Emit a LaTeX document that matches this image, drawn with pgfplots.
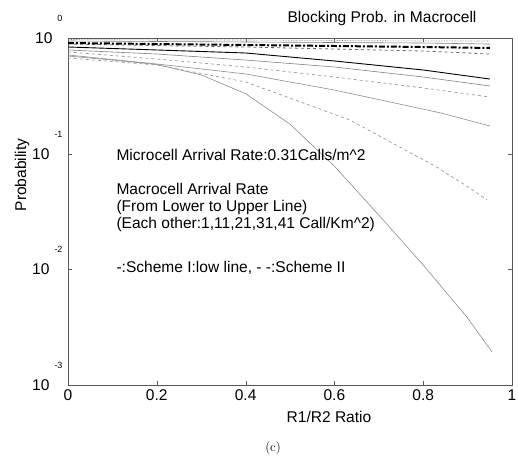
\documentclass[border=0pt]{standalone}
\usepackage{pgfplots}
\pgfplotsset{compat=1.18}
\usepackage{fontspec}
\setsansfont{Liberation Sans}
\newcommand{\bigf}{\sffamily\fontsize{15.6}{18}\selectfont}
\newcommand{\expo}[1]{10\hspace{5bp}\smash{\raisebox{22bp}{\sffamily\fontsize{9}{9}\selectfont #1}}}
\begin{document}
\begin{tikzpicture}
\useasboundingbox (0bp,0bp) rectangle (518bp,465bp);
\begin{axis}[
  at={(68bp,80bp)}, anchor=south west,
  width=444bp, height=347bp, scale only axis,
  xmin=0, xmax=1,
  ymode=log, ymin=1e-3, ymax=1,
  yminorticks=false,
  xtick={0,0.2,0.4,0.6,0.8,1},
  xticklabels={0,0.2,0.4,0.6,0.8,1},
  ytick={0.001,0.01,0.1,1},
  yticklabels={{\expo{-3}},{\expo{-2}},{\expo{-1}},{\expo{0}}},
  tick label style={font=\bigf},
  /pgf/number format/assume math mode=true,
  yticklabel style={xshift=-2bp},
  xticklabel style={yshift=-1bp},
  axis line style={black!65, line width=0.6pt},
  major tick length=4bp,
  tick style={black!65},
  clip=true,
]
% Scheme I, rate 1 (steepest)
\addplot[black!45, line width=0.6pt] coordinates {
(0,0.699) (0.1,0.645) (0.2,0.590) (0.3,0.480) (0.4,0.330) (0.5,0.1800)
(0.6,0.0780) (0.71,0.0267) (0.8,0.0109) (0.9,0.0038) (0.955,0.00193)};
% Scheme II, rate 1
\addplot[black!45, line width=0.6pt, dashed] coordinates {
(0,0.672) (0.2,0.584) (0.4,0.417) (0.635,0.1956) (0.83,0.0767) (0.905,0.0505) (0.944,0.0398)};
% Scheme I, rate 11
\addplot[black!45, line width=0.6pt] coordinates {
(0,0.713) (0.2,0.596) (0.4,0.489) (0.6,0.355) (0.84,0.2248) (0.95,0.1735)};
% Scheme II, rate 11
\addplot[black!45, line width=0.6pt, dashed] coordinates {
(0,0.757) (0.2,0.658) (0.4,0.5615) (0.6,0.460) (0.8,0.370) (0.95,0.309)};
% Scheme I, rate 21
\addplot[black!50, line width=0.6pt] coordinates {
(0,0.788) (0.2,0.727) (0.4,0.645) (0.6,0.5615) (0.8,0.460) (0.95,0.385)};
% Scheme II, rate 21
\addplot[black, line width=0.9pt] coordinates {
(0,0.836) (0.2,0.788) (0.4,0.742) (0.6,0.633) (0.8,0.529) (0.95,0.442)};
% Scheme I, rate 31
\addplot[black!60, line width=0.8pt, dashed] coordinates {
(0,0.887) (0.2,0.861) (0.4,0.836) (0.6,0.803) (0.8,0.772) (0.95,0.727)};
% Scheme II, rate 31
\addplot[black, line width=2pt, dash pattern=on 6pt off 2pt on 2pt off 2pt] coordinates {
(0,0.905) (0.2,0.887) (0.4,0.870) (0.6,0.853) (0.8,0.836) (0.95,0.820)};
% Scheme I, rate 41
\addplot[black!50, line width=0.6pt] coordinates {
(0,0.942) (0.2,0.933) (0.4,0.924) (0.6,0.914) (0.8,0.905) (0.95,0.887)};
% Scheme II, rate 41
\addplot[black!55, line width=0.6pt, densely dotted] coordinates {
(0,0.971) (0.2,0.961) (0.4,0.961) (0.6,0.952) (0.8,0.942) (0.95,0.942)};
\end{axis}
\node[font=\bigf] at (382bp,447bp) {Blocking Prob. in Macrocell};
\node[font=\bigf, anchor=west] at (113bp,310bp) {Microcell Arrival Rate:0.31Calls/m\^{}2};
\node[font=\bigf, anchor=west] at (113bp,276bp) {Macrocell Arrival Rate};
\node[font=\bigf, anchor=west] at (113bp,258bp) {(From Lower to Upper Line)};
\node[font=\bigf, anchor=west] at (113bp,241bp) {(Each other:1,11,21,31,41 Call/Km\^{}2)};
\node[font=\bigf, anchor=west] at (113bp,197bp) {-:Scheme I:low line, - -:Scheme II};
\node[font=\bigf, rotate=90] at (22bp,290bp) {Probability};
\node[font=\bigf] at (329bp,48bp) {R1/R2 Ratio};
\node[font=\rmfamily\fontsize{13}{15}\selectfont] at (273bp,17bp) {(c)};
\end{tikzpicture}
\end{document}
